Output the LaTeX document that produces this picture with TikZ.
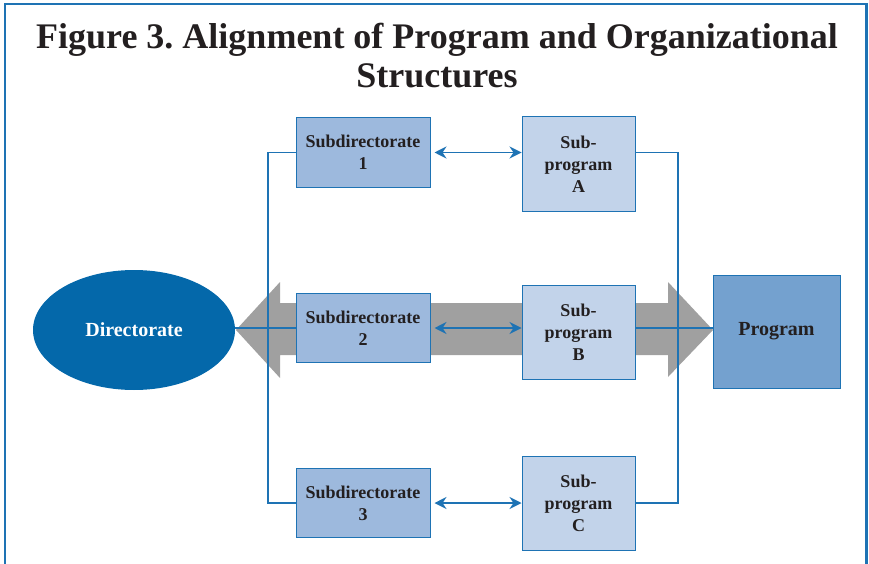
\documentclass[tikz,border=0pt]{standalone}
\usepackage{fontspec}
\setmainfont{Liberation Serif}
\usetikzlibrary{arrows.meta,shapes.geometric}
\frenchspacing

\definecolor{dirblue}{RGB}{4,104,170}
\definecolor{lineblue}{RGB}{30,115,180}
\definecolor{sdfill}{RGB}{157,185,221}
\definecolor{spfill}{RGB}{194,211,234}
\definecolor{progfill}{RGB}{116,161,207}
\definecolor{arrowgray}{RGB}{160,160,160}
\definecolor{textcol}{RGB}{35,31,32}

\begin{document}
\begin{tikzpicture}[x=1pt,y=-1pt,
		box/.style={draw=lineblue,line width=1pt,align=center,text=textcol,
			font=\fontsize{18}{22}\selectfont\bfseries,inner sep=0pt},
		subdir/.style={box,fill=sdfill,minimum width=134pt,minimum height=69pt},
		subprog/.style={box,fill=spfill,minimum width=113pt,minimum height=94pt},
		link/.style={draw=lineblue,line width=1.2pt},
		twoway/.style={link,{Stealth[length=12pt,width=12pt,inset=4pt]}-{Stealth[length=12pt,width=12pt,inset=4pt]},shorten <=4pt}]
	\useasboundingbox (0,0) rectangle (869,564);
	% frame and title
	\draw[lineblue,line width=2.5pt] (5,570) |- (866.5,4) -- (866.5,570);
	\node[text=textcol,font=\fontsize{36}{39}\selectfont\bfseries,align=center] (title) at (437,56)
		{Figure 3. Alignment of Program and Organizational\\Structures};
	% gray double arrow
	\fill[arrowgray] (236,330) -- (280,282) -- (280,303) -- (668,303) -- (668,282) -- (713,330)
		-- (668,377) -- (668,355) -- (280,355) -- (280,378) -- cycle;
	% nodes
	\node[ellipse,fill=dirblue,minimum width=202pt,minimum height=120pt,text=white,
		font=\fontsize{20}{22}\selectfont\bfseries] (dir) at (134,330) {Directorate};
	\node[subdir] (sd1) at (363,152.5) {Subdirectorate\\1};
	\node[subdir] (sd2) at (363,328) {Subdirectorate\\2};
	\node[subdir] (sd3) at (363,503) {Subdirectorate\\3};
	\node[subprog] (spa) at (578.5,164) {Sub-\\program\\A};
	\node[subprog] (spb) at (578.5,332) {Sub-\\program\\B};
	\node[subprog] (spc) at (578.5,503) {Sub-\\program\\C};
	\node[box,fill=progfill,minimum width=127pt,minimum height=113pt,
		font=\fontsize{20}{22}\selectfont\bfseries] (prog) at (776.5,331.5) {Program};
	\coordinate (left) at (268,330);
	\coordinate (right) at (678,330);
	% connectors
	\draw[link] (sd1.west) -| (left) |- (sd3.west);
	\draw[link] (sd2.west) to (sd2.west -| dir.east);
	\draw[link] (spa.east |- sd1.east) -| (right) |- (spc.east |- sd3.east);
	\draw[link] (spb.east |- sd2.east) to (prog.west |- sd2.east);
	\draw[twoway] (sd1.east) to (sd1.east -| spa.west);
	\draw[twoway] (sd2.east) to (sd2.east -| spb.west);
	\draw[twoway] (sd3.east) to (sd3.east -| spc.west);
\end{tikzpicture}
\end{document}
